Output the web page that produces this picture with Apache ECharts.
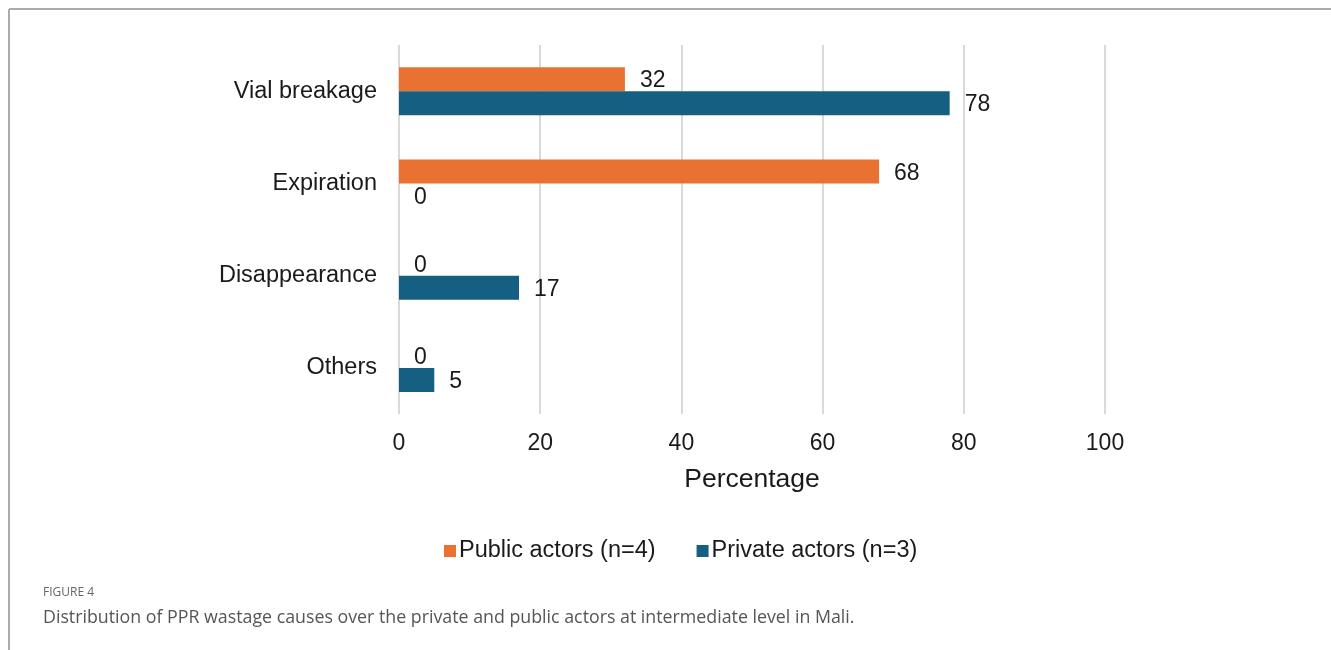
<!DOCTYPE html>
<html>
<head>
<meta charset="utf-8">
<script src="https://cdn.jsdelivr.net/npm/echarts@6/dist/echarts.min.js"></script>
<style>
  html, body { margin: 0; padding: 0; background: #fff; }
  #main { width: 1331px; height: 650px; }
</style>
</head>
<body>
<div id="main"></div>
<script>
  let causes = ['Vial breakage', 'Expiration', 'Disappearance', 'Others']
  let publicActors = [32, 68, 0, 0]
  let privateActors = [78, 0, 17, 5]
  let seriesNames = ['Public actors (n=4)', 'Private actors (n=3)']
  let colors = ['#E97132', '#156082']
  let font = 'Liberation Sans, Arial, sans-serif'

  let chart = echarts.init(document.getElementById('main'))
  let label = {
    show: true,
    position: 'right',
    distance: 15,
    offset: [0, 2],
    color: '#1a1a1a',
    fontSize: 23,
    fontFamily: font
  }
  chart.setOption({
    color: colors,
    animation: false,
    grid: { left: 399, right: 226, top: 45, bottom: 236 },
    legend: {
      data: seriesNames,
      top: 534,
      left: 439,
      itemWidth: 12,
      itemHeight: 12,
      itemGap: 41,
      icon: 'rect',
      textStyle: { fontSize: 23.5, fontFamily: font, color: '#1a1a1a', padding: [0, 0, 0, -2] }
    },
    xAxis: {
      type: 'value',
      min: 0,
      max: 100,
      interval: 20,
      name: 'Percentage',
      nameLocation: 'middle',
      nameGap: 52,
      nameTextStyle: { fontSize: 26.5, fontFamily: font, color: '#1a1a1a' },
      axisLine: { show: false },
      axisTick: { show: false },
      axisLabel: { fontSize: 23, fontFamily: font, color: '#1a1a1a', margin: 18 },
      splitLine: { lineStyle: { color: '#d9d9d9', width: 2 } }
    },
    yAxis: {
      type: 'category',
      inverse: true,
      data: causes,
      axisLine: { show: false },
      axisTick: { show: false },
      axisLabel: { fontSize: 23.5, fontFamily: font, color: '#1a1a1a', margin: 22, padding: [6, 0, 0, 0] }
    },
    series: [
      {
        name: seriesNames[0],
        type: 'bar',
        barWidth: 24,
        barGap: '0%',
        label: label,
        data: publicActors
      },
      {
        name: seriesNames[1],
        type: 'bar',
        barWidth: 24,
        barGap: '0%',
        label: label,
        data: privateActors
      }
    ],
    graphic: [
      { type: 'line', shape: { x1: 9, y1: 9, x2: 1331, y2: 9 }, style: { stroke: '#ababab', lineWidth: 2 } },
      { type: 'line', shape: { x1: 9, y1: 9, x2: 9, y2: 650 }, style: { stroke: '#ababab', lineWidth: 2 } },
      {
        type: 'text', left: 43, top: 587,
        style: { text: 'FIGURE 4', fontSize: 12, fontFamily: 'Open Sans, sans-serif', fill: '#666' }
      },
      {
        type: 'text', left: 43, top: 609,
        style: { text: 'Distribution of PPR wastage causes over the private and public actors at intermediate level in Mali.', fontSize: 17.8, fontFamily: 'Open Sans, sans-serif', fill: '#555' }
      }
    ]
  })
</script>
</body>
</html>
